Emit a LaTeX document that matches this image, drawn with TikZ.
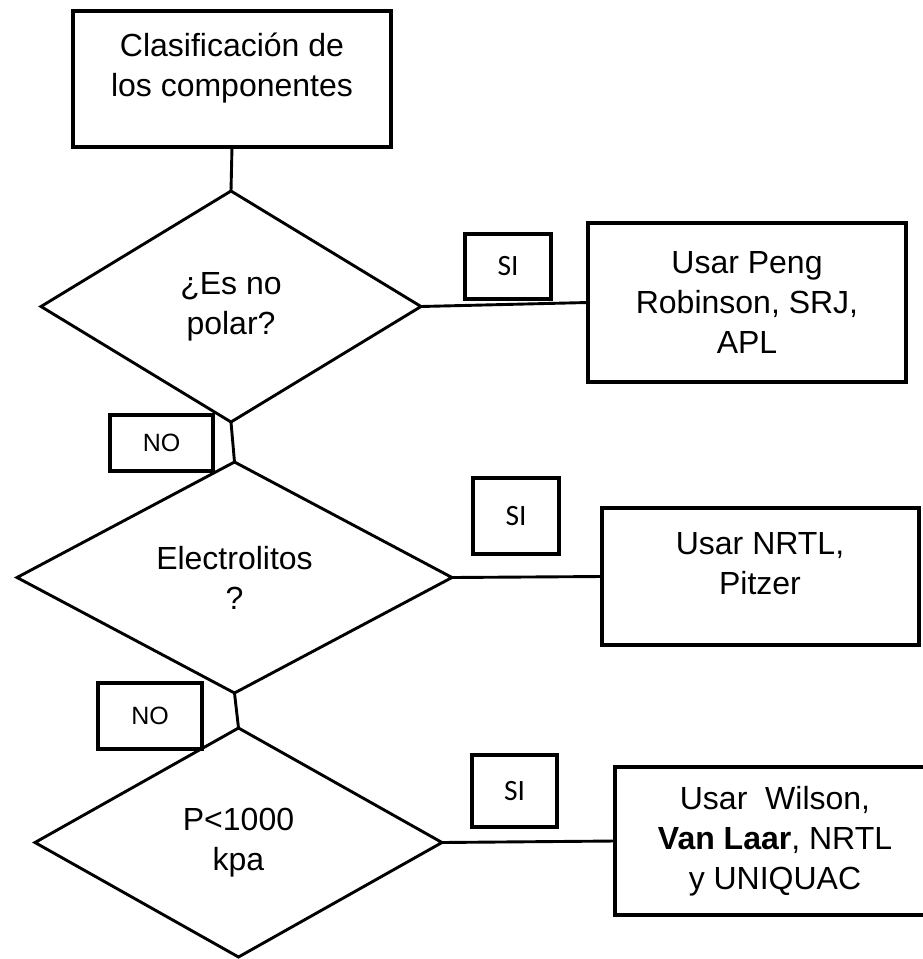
\documentclass[tikz,border=0pt]{standalone}
\usepackage{fontspec}
\setmainfont{Liberation Sans}
\newfontfamily\sifont{Carlito}
\usetikzlibrary{shapes.geometric}
\begin{document}
\begin{tikzpicture}[x=1pt,y=-1pt,
  box/.style={draw, line width=3.2pt, rectangle, inner sep=0pt, outer sep=0pt, align=center, font=\fontsize{32}{40}\selectfont},
  txt/.style={inner sep=0pt, align=center, font=\fontsize{32}{40}\selectfont},
  decision/.style={draw, line width=2.9pt, diamond, inner sep=0pt, outer sep=0pt, align=center, font=\fontsize{32}{40}\selectfont},
  tag/.style={draw, line width=3.2pt, rectangle, inner sep=0pt, outer sep=0pt},
  sitag/.style={tag, font=\sifont\fontsize{29.5}{32}\selectfont},
  notag/.style={tag, font=\fontsize{25}{28}\selectfont},
  link/.style={line width=2.9pt}]
\useasboundingbox (0,0) rectangle (922,959);

% main boxes
\node[box, minimum width=318pt, minimum height=136pt] (top) at (232,79) {};
\node[txt] (toptxt) at (232,68) {Clasificación de\\los componentes};

\node[box, minimum width=318pt, minimum height=159pt] (b1) at (747,302.5) {Usar Peng\\Robinson, SRJ,\\APL};
\node[box, minimum width=317pt, minimum height=137pt] (b2) at (760.5,576.5) {};
\node[txt] (b2txt) at (760,564) {Usar NRTL,\\Pitzer};
\node[box, minimum width=320pt, minimum height=148pt] (b3) at (775,841) {Usar\ \ Wilson,\\\textbf{Van Laar}, NRTL\\y UNIQUAC};

% decisions
\node[decision, minimum width=380pt, minimum height=231pt] (d1) at (231,306.5) {¿Es no\\polar?};
\node[decision, minimum width=435pt, minimum height=231pt] (d2) at (234.5,577.5) {Electrolitos\\?};
\node[decision, minimum width=407pt, minimum height=229pt] (d3) at (238.5,842.5) {P<1000\\kpa};

% tags
\node[sitag, minimum width=86pt, minimum height=65pt] (si1) at (508,266.5) {SI};
\node[sitag, minimum width=86pt, minimum height=76pt] (si2) at (516,516) {SI};
\node[sitag, minimum width=85pt, minimum height=72pt] (si3) at (514.5,791) {SI};
\node[notag, minimum width=103pt, minimum height=56pt] (no1) at (161.5,443) {NO};
\node[notag, minimum width=104pt, minimum height=66pt] (no2) at (150,716) {NO};

% connectors
\draw[link] (top.south) -- (d1.north);
\draw[link] (d1.south) -- (d2.north);
\draw[link] (d2.south) -- (d3.north);
\draw[link] (d1.east) -- (b1.west);
\draw[link] (d2.east) -- (b2.west);
\draw[link] (d3.east) -- (b3.west);
\end{tikzpicture}
\end{document}
